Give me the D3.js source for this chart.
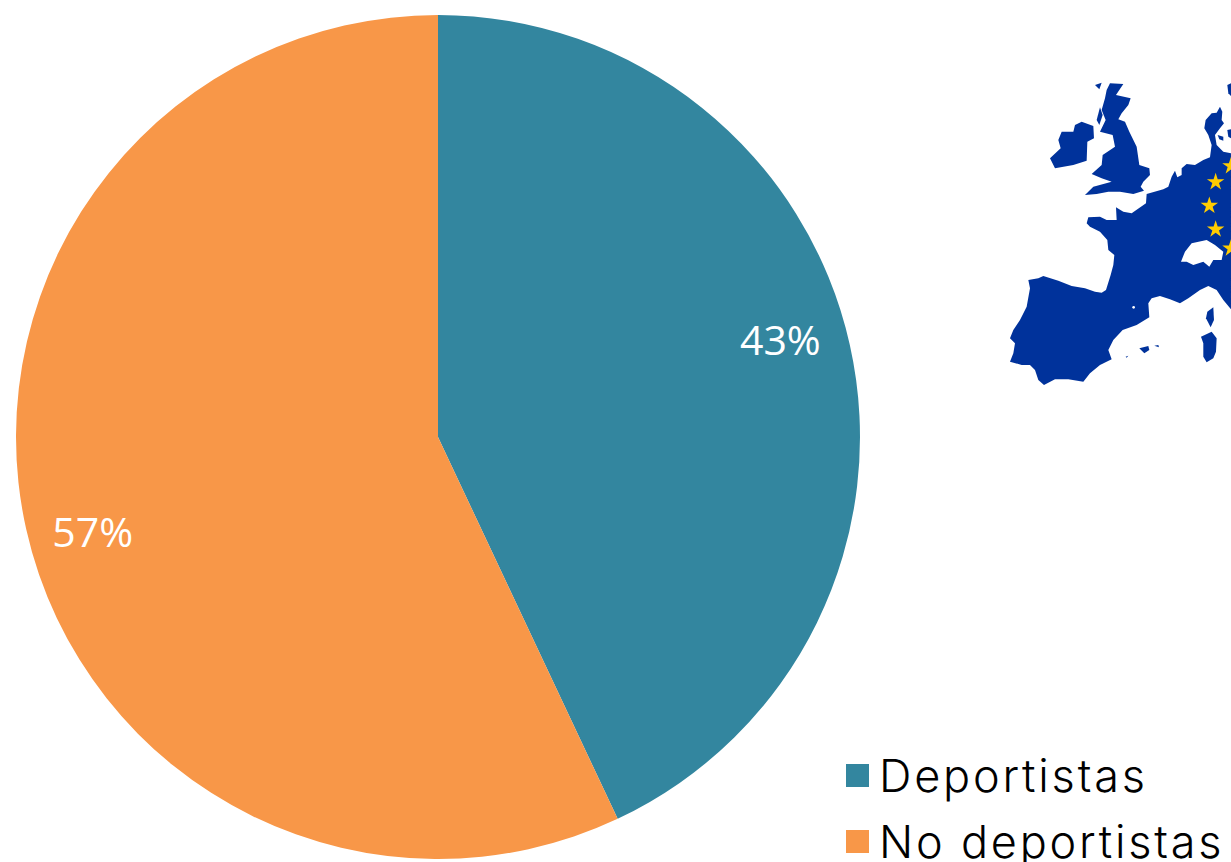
<!DOCTYPE html>
<html>
<head>
<meta charset="utf-8">
<script src="https://cdn.jsdelivr.net/npm/d3@7"></script>
<style>
  html, body { margin: 0; padding: 0; background: #fff; overflow: hidden; }
  svg { display: block; }
</style>
</head>
<body>
<svg id="chart"></svg>
<script>
const categories = ['Deportistas', 'No deportistas']
const values = [43, 57]
const colors = ['#33869f', '#f89748']

// Map outlines, traced from two 3x crops of the picture
// lower crop starts at page (1000, 210), upper crop at page (1040, 70)
const mainland = [[693,-170],[670,-175],[650,-195],[645,-225],[660,-245],[672,-260],[665,-270],[667,-295],[660,-310],[650,-292],[635,-290],[617,-270],[613,-245],[625,-225],[635,-195],[630,-158],[610,-150],[585,-135],[560,-138],[545,-125],[545,-105],[532,-98],[525,-118],[515,-100],[505,-70],[490,-62],[440,-48],[438,-20],[395,10],[370,5],[348,-8],[350,30],[320,30],[300,20],[265,22],[260,40],[270,50],[300,65],[322,90],[325,120],[343,135],[340,165],[332,195],[318,240],[305,248],[285,245],[255,235],[215,228],[175,212],[130,198],[115,205],[85,210],[90,235],[80,290],[60,330],[40,360],[30,385],[45,400],[40,430],[30,455],[65,465],[90,465],[105,480],[115,510],[132,525],[165,508],[205,508],[250,515],[270,490],[300,465],[335,448],[325,420],[340,390],[368,360],[410,345],[448,322],[445,280],[455,265],[480,258],[510,268],[540,280],[565,265],[600,240],[625,228],[650,240],[670,270],[693,298]]
const switzerland = [[543,155],[555,125],[575,100],[620,90],[645,105],[670,125],[665,150],[640,150],[628,170],[610,155],[580,165],[560,155]]
const corsica = [[640,292],[642,330],[632,352],[618,325],[622,305]]
const sardinia = [[603,380],[635,365],[650,385],[648,425],[640,445],[620,457],[610,440],[610,400]]
const mallorca = [[418,415],[445,408],[448,420],[433,430]]
const menorca = [[463,407],[475,405],[477,412]]
const ibiza = [[377,440],[385,437],[380,443]]
const britain = [[210,40],[250,42],[228,75],[272,85],[265,105],[245,130],[235,148],[255,155],[268,185],[290,230],[298,285],[328,295],[330,315],[310,335],[302,350],[312,362],[280,372],[240,365],[205,365],[170,372],[135,375],[160,350],[215,335],[185,325],[155,312],[185,285],[188,255],[225,230],[218,195],[180,185],[197,150],[185,120],[195,85],[200,60]]
const ireland = [[105,165],[125,155],[160,168],[162,205],[142,215],[140,272],[100,285],[45,295],[30,265],[62,235],[55,210],[65,185],[100,185]]
const hebrides = [[165,45],[185,38],[178,58]]
const skye = [[170,150],[180,112],[188,135],[178,165]]
const sweden = [[562,45],[573,40],[573,78],[565,70]]
const zealand = [[533,195],[550,200],[550,212],[538,208]]
const funen = [[562,180],[573,178],[573,205],[565,200]]
const stars = [[647,-84],[628,-13],[647,58],[693,-132],[693,115]]

const width = 1231
const height = 862
const cx = 438
const cy = 437
const radius = 422
const labelRadius = 357
const labelShift = -3 * Math.PI / 180

const svg = d3.select('#chart')
    .attr('width', width)
    .attr('height', height)

// Pie
const pie = d3.pie().sort(null)
const arc = d3.arc().innerRadius(0).outerRadius(radius)
const slices = pie(values)

const pieG = svg.append('g')
    .attr('transform', `translate(${cx}, ${cy})`)

pieG.selectAll('path')
    .data(slices)
    .join('path')
    .attr('d', arc)
    .attr('fill', (d, i) => colors[i])

pieG.selectAll('text')
    .data(slices)
    .join('text')
    .text(d => d.value + '%')
    .attr('x', d => labelRadius * Math.sin((d.startAngle + d.endAngle) / 2 + labelShift) - 1.5)
    .attr('y', d => -labelRadius * Math.cos((d.startAngle + d.endAngle) / 2 + labelShift))
    .attr('dy', '0.33em')
    .attr('text-anchor', 'middle')
    .attr('fill', '#fff')
    .style('font-family', '"Open Sans", sans-serif')
    .style('font-size', '41px')

// Map in the top right corner
const closed = d3.line()
const shapePath = pts => closed(pts) + 'Z'

const lowerCrop = svg.append('g').attr('transform', 'translate(1000, 210) scale(0.3333)')
const upperCrop = svg.append('g').attr('transform', 'translate(1040, 70) scale(0.3333)')

lowerCrop.selectAll('.land')
    .data([mainland, corsica, sardinia, mallorca, menorca, ibiza])
    .join('path')
    .attr('class', 'land')
    .attr('d', shapePath)
    .attr('fill', '#00329b')

lowerCrop.append('path')
    .attr('d', shapePath(switzerland))
    .attr('fill', '#fff')

lowerCrop.append('circle')
    .attr('cx', 401)
    .attr('cy', 292)
    .attr('r', 4)
    .attr('fill', '#fff')

upperCrop.selectAll('.land')
    .data([britain, ireland, hebrides, skye, sweden, zealand, funen])
    .join('path')
    .attr('class', 'land')
    .attr('d', shapePath)
    .attr('fill', '#00329b')

const star = d3.symbol().type(d3.symbolStar).size(850)
lowerCrop.selectAll('.star')
    .data(stars)
    .join('path')
    .attr('class', 'star')
    .attr('d', star)
    .attr('transform', d => `translate(${d[0]}, ${d[1]})`)
    .attr('fill', '#ffcc00')

// Legend
const legendY = d3.scalePoint().domain(categories).range([775.5, 841.5])

const legend = svg.append('g')
    .selectAll('g')
    .data(categories)
    .join('g')
    .attr('transform', d => `translate(846, ${legendY(d)})`)

legend.append('rect')
    .attr('y', -11.5)
    .attr('width', 23)
    .attr('height', 23)
    .attr('fill', (d, i) => colors[i])

legend.append('text')
    .text(d => d)
    .attr('x', 33)
    .attr('y', 16.5)
    .attr('fill', '#000')
    .style('font-family', 'Inter, sans-serif')
    .style('font-size', '45px')
    .style('font-weight', 300)
    .style('letter-spacing', '2.8px')
</script>
</body>
</html>
